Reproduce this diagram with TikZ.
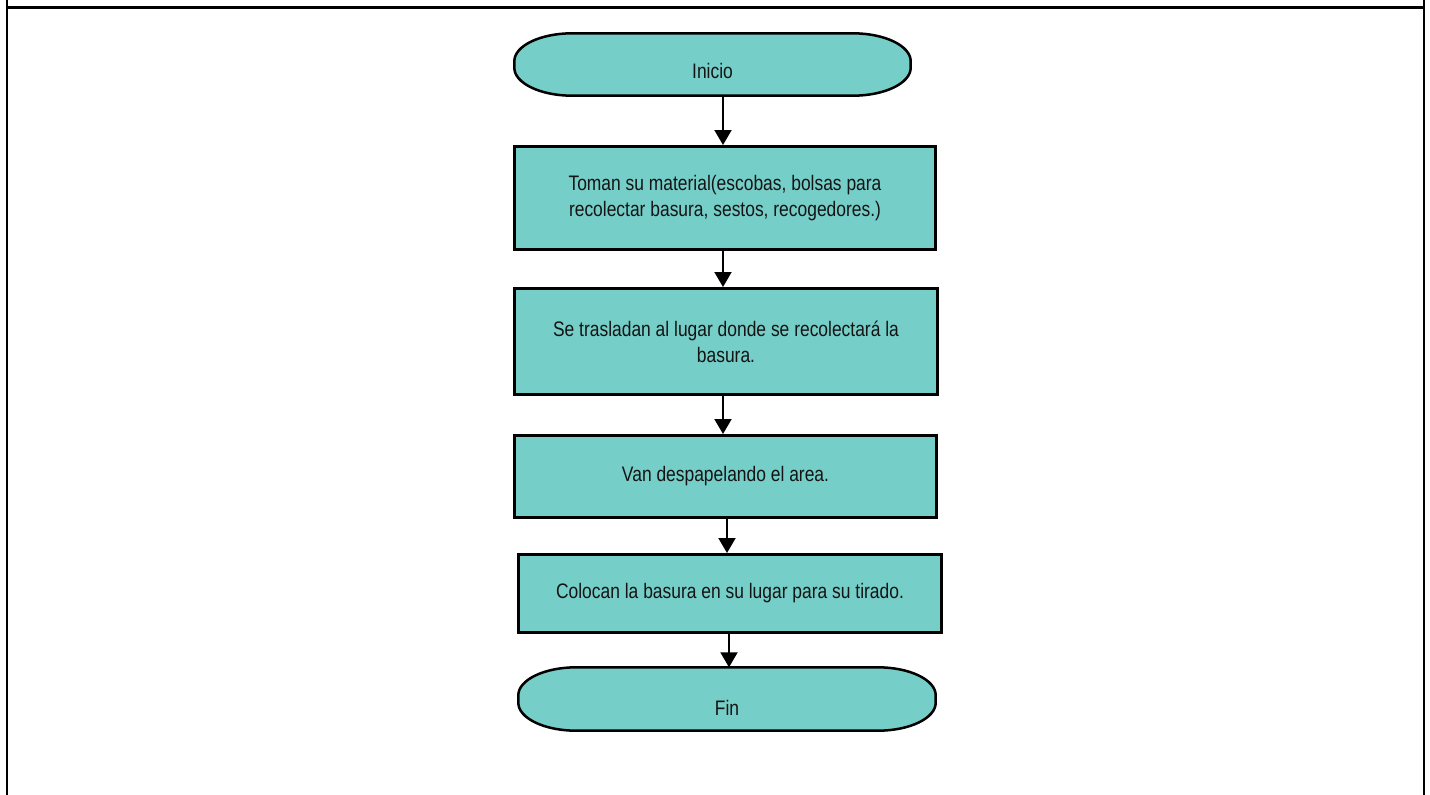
\documentclass[tikz,border=0pt]{standalone}
\usepackage{fontspec}
\setmainfont{Liberation Sans}[FakeStretch=0.83]
\usetikzlibrary{arrows.meta,backgrounds}
\definecolor{tealfill}{RGB}{118,206,200}
\definecolor{txt}{RGB}{20,20,20}
\tikzset{
  procbox/.style={draw=black, line width=3pt, fill=tealfill, inner sep=0pt,
    align=center, text=txt, font=\fontsize{21pt}{26pt}\selectfont},
  termnode/.style={draw=none, fill=none, inner sep=0pt, text=txt,
    font=\fontsize{21pt}{26pt}\selectfont},
  termline/.style={draw=black, line width=2.5pt, fill=tealfill},
  arr/.style={line width=2pt, -{Triangle[width=17pt,length=15pt]}},
  frameline/.style={line width=2pt, black}
}
\begin{document}
\begin{tikzpicture}[x=1pt, y=-1pt]
\useasboundingbox (0,0) rectangle (1430,795);
% frame
\draw[frameline, line width=3pt] (5.7,7.5) -- (1425,7.5);
\draw[frameline] (6.7,0) -- (6.7,795);
\draw[frameline] (1424.2,0) -- (1424.2,795);

% nodes
\node[termnode, minimum width=396pt, minimum height=62pt] (in) at (712.5,64.5) {\raisebox{-14pt}[0pt][0pt]{Inicio}};
\node[procbox, minimum width=421pt, minimum height=103pt] (t1) at (725,198)
  {Toman su material(escobas, bolsas para\\recolectar basura, sestos, recogedores.)};
\node[procbox, minimum width=423pt, minimum height=106pt] (t2) at (726,341.5)
  {Se trasladan al lugar donde se recolectará la\\basura.};
\node[procbox, minimum width=422pt, minimum height=82pt] (t3) at (725.5,476.5)
  {Van despapelando el area.};
\node[procbox, minimum width=423pt, minimum height=78pt] (t4) at (730,593.5)
  {Colocan la basura en su lugar para su tirado.};
\node[termnode, minimum width=417pt, minimum height=63pt] (fin) at (727,699) {\raisebox{-16pt}[0pt][0pt]{Fin}};

% terminator outlines
\begin{scope}[on background layer]
\foreach \n in {in,fin}{
\draw[termline] ([xshift=58pt]\n.north west) -- ([xshift=-58pt]\n.north east)
  arc[start angle=90, end angle=0, x radius=58pt, y radius=28pt]
  -- ([yshift=28pt]\n.south east)
  arc[start angle=0, end angle=-90, x radius=58pt, y radius=28pt]
  -- ([xshift=58pt]\n.south west)
  arc[start angle=270, end angle=180, x radius=58pt, y radius=28pt]
  -- ([yshift=-28pt]\n.north west)
  arc[start angle=180, end angle=90, x radius=58pt, y radius=28pt]
  -- cycle;
}
\end{scope}

% connectors
\draw[arr] ([xshift=-2pt]t1.north |- in.south) -- ([xshift=-2pt]t1.north);
\draw[arr] ([xshift=-3pt]t2.north |- t1.south) -- ([xshift=-3pt]t2.north);
\draw[arr] ([xshift=-2.5pt]t3.north |- t2.south) -- ([xshift=-2.5pt]t3.north);
\draw[arr] ([xshift=-3pt]t4.north |- t3.south) -- ([xshift=-3pt]t4.north);
\draw[arr] ([xshift=2pt]fin.north |- t4.south) -- ([xshift=2pt]fin.north);
\end{tikzpicture}
\end{document}
